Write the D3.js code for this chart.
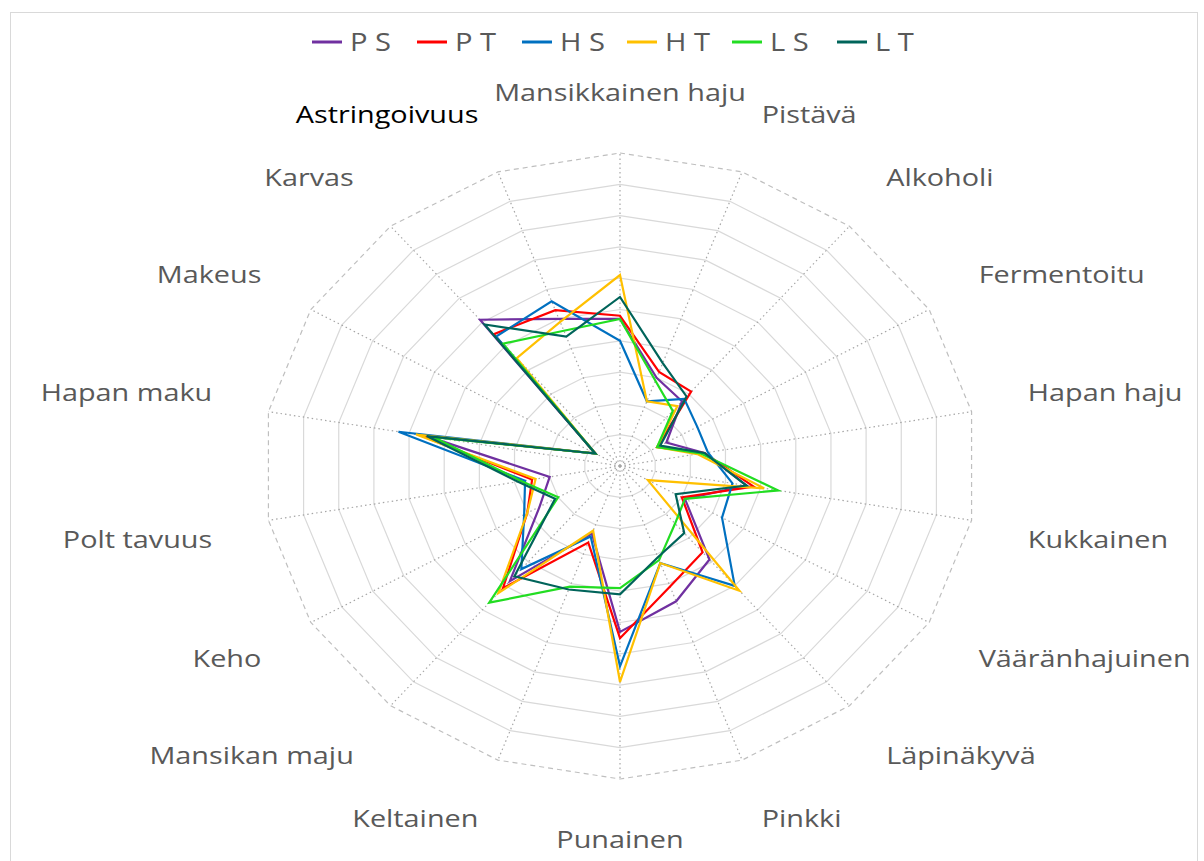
<!DOCTYPE html>
<html lang="fi">
<head>
<meta charset="utf-8">
<title>Aistinvarainen arviointi</title>
<script src="https://d3js.org/d3.v7.min.js"></script>
<style>
  body { margin: 0; background: #fff; }
  text { font-family: "Open Sans", "Liberation Sans", sans-serif; }
</style>
</head>
<body>
<script>
// akselit myötäpäivään ylhäältä
var categories = ["Mansikkainen haju", "Pistävä", "Alkoholi", "Fermentoitu", "Hapan haju",
  "Kukkainen", "Vääränhajuinen", "Läpinäkyvä", "Pinkki", "Punainen", "Keltainen",
  "Mansikan maju", "Keho", "Polt tavuus", "Hapan maku", "Makeus", "Karvas", "Astringoivuus"];

var seriesNames = ["P S", "P T", "H S", "H T", "L S", "L T"];
var seriesColors = ["#7030A0", "#FF0000", "#0070C0", "#FFC000", "#22DD22", "#00645A"];

var PS = [4.7, 3.0, 2.7, 1.5, 2.4, 3.6, 2.1, 3.9, 4.6, 5.3, 2.3, 4.8, 2.6, 2.0, 5.5, 0.8, 6.1, 5.0];
var PT = [4.8, 3.2, 3.1, 1.2, 2.4, 3.8, 2.0, 3.6, 4.1, 5.5, 2.6, 5.1, 3.0, 2.5, 5.7, 0.8, 5.5, 5.3];
var HS = [4.0, 2.2, 2.8, 2.5, 2.5, 3.2, 3.3, 5.0, 3.3, 6.4, 2.4, 4.3, 3.1, 2.7, 6.3, 0.8, 5.4, 5.6];
var HT = [6.1, 2.2, 2.5, 1.2, 2.2, 4.1, 0.9, 5.2, 3.3, 6.9, 2.2, 5.3, 3.0, 2.4, 5.8, 0.8, 4.5, 4.9];
var LS = [4.7, 2.9, 2.3, 1.2, 2.3, 4.5, 2.1, 2.4, 3.2, 3.9, 4.1, 5.7, 2.0, 2.8, 5.3, 0.8, 5.1, 4.6];
var LT = [5.4, 3.5, 2.9, 1.3, 2.4, 3.6, 1.8, 2.8, 3.1, 4.1, 4.2, 4.6, 2.1, 2.9, 5.5, 0.8, 5.9, 4.4];

var allSeries = [PS, PT, HS, HT, LS, LT];
var ringLevels = [1, 2, 3, 4, 5, 6, 7, 8, 9, 10];

var W = 1204, H = 861;
var cx = 620, cy = 466;

var svg = d3.select("body").append("svg")
  .attr("width", W)
  .attr("height", H);

// kehys
svg.append("rect")
  .attr("x", 10.5).attr("y", 12.5)
  .attr("width", 1187).attr("height", 880)
  .attr("fill", "none")
  .attr("stroke", "#d9d9d9");

// kuva on venytetty vaakasuunnassa -> eri säde x:lle ja y:lle
var rx = d3.scaleLinear().domain([0, 10]).range([0, 357]);
var ry = d3.scaleLinear().domain([0, 10]).range([0, 313]);
var angle = d3.scaleLinear().domain([0, categories.length]).range([0, 2 * Math.PI]);

function px(i, v) { return cx + rx(v) * Math.sin(angle(i)); }
function py(i, v) { return cy - ry(v) * Math.cos(angle(i)); }

var idx = d3.range(categories.length);

// renkaat
var ringLine = d3.line()
  .x(function(d) { return d[0]; })
  .y(function(d) { return d[1]; })
  .curve(d3.curveLinearClosed);

var grid = svg.append("g");
grid.selectAll("path.ring")
  .data(ringLevels)
  .enter()
  .append("path")
  .attr("class", "ring")
  .attr("d", function(lv) {
    return ringLine(idx.map(function(i) { return [px(i, lv), py(i, lv)]; }));
  })
  .attr("fill", "none")
  .attr("stroke", function(lv) { return lv == 10 ? "#bfbfbf" : "#d9d9d9"; })
  .attr("stroke-width", 1.2)
  .attr("stroke-dasharray", function(lv) { return lv == 10 ? "5,4" : null; });

// säteet
grid.selectAll("line.spoke")
  .data(idx)
  .enter()
  .append("line")
  .attr("class", "spoke")
  .attr("x1", cx).attr("y1", cy)
  .attr("x2", function(i) { return px(i, 10); })
  .attr("y2", function(i) { return py(i, 10); })
  .attr("stroke", "#a6a6a6")
  .attr("stroke-width", 1.2)
  .attr("stroke-dasharray", "1.5,3");

// akselien nimet
var labelR = 11.6;
var labels = svg.selectAll("g.lab")
  .data(idx)
  .enter()
  .append("g")
  .attr("class", "lab")
  .attr("transform", function(i) {
    var c = Math.cos(angle(i));
    var off = c > 0 ? -10 : 11;
    return "translate(" + px(i, labelR) + "," + (py(i, labelR) + off) + ") scale(1.2,1)";
  });

labels.append("text")
  .attr("text-anchor", function(i) {
    var s = Math.sin(angle(i));
    if (Math.abs(s) < 0.05) return "middle";
    return s > 0 ? "start" : "end";
  })
  .attr("dy", "0.35em")
  .attr("font-size", 24)
  .attr("fill", function(i) { return i == 17 ? "#000000" : "#595959"; })
  .text(function(i) { return categories[i]; });

// sarjat
var seriesLine = d3.line()
  .x(function(d, i) { return px(i, d); })
  .y(function(d, i) { return py(i, d); })
  .curve(d3.curveLinearClosed);

svg.selectAll("path.series")
  .data(allSeries)
  .enter()
  .append("path")
  .attr("class", "series")
  .attr("d", function(d) { return seriesLine(d); })
  .attr("fill", "none")
  .attr("stroke", function(d, k) { return seriesColors[k]; })
  .attr("stroke-width", 2.2)
  .attr("stroke-linejoin", "miter");

// selite
var legX = d3.scaleLinear().domain([0, 1]).range([312, 417]);
var leg = svg.selectAll("g.leg")
  .data(seriesNames)
  .enter()
  .append("g")
  .attr("class", "leg")
  .attr("transform", function(d, k) { return "translate(" + legX(k) + ",42)"; });

leg.append("line")
  .attr("x1", 0).attr("x2", 30)
  .attr("y1", 0).attr("y2", 0)
  .attr("stroke", function(d, k) { return seriesColors[k]; })
  .attr("stroke-width", 3);

leg.append("text")
  .attr("transform", "translate(38,0) scale(1.12,1)")
  .attr("dy", "0.35em")
  .attr("font-size", 26)
  .attr("fill", "#595959")
  .text(function(d) { return d; });
</script>
</body>
</html>
